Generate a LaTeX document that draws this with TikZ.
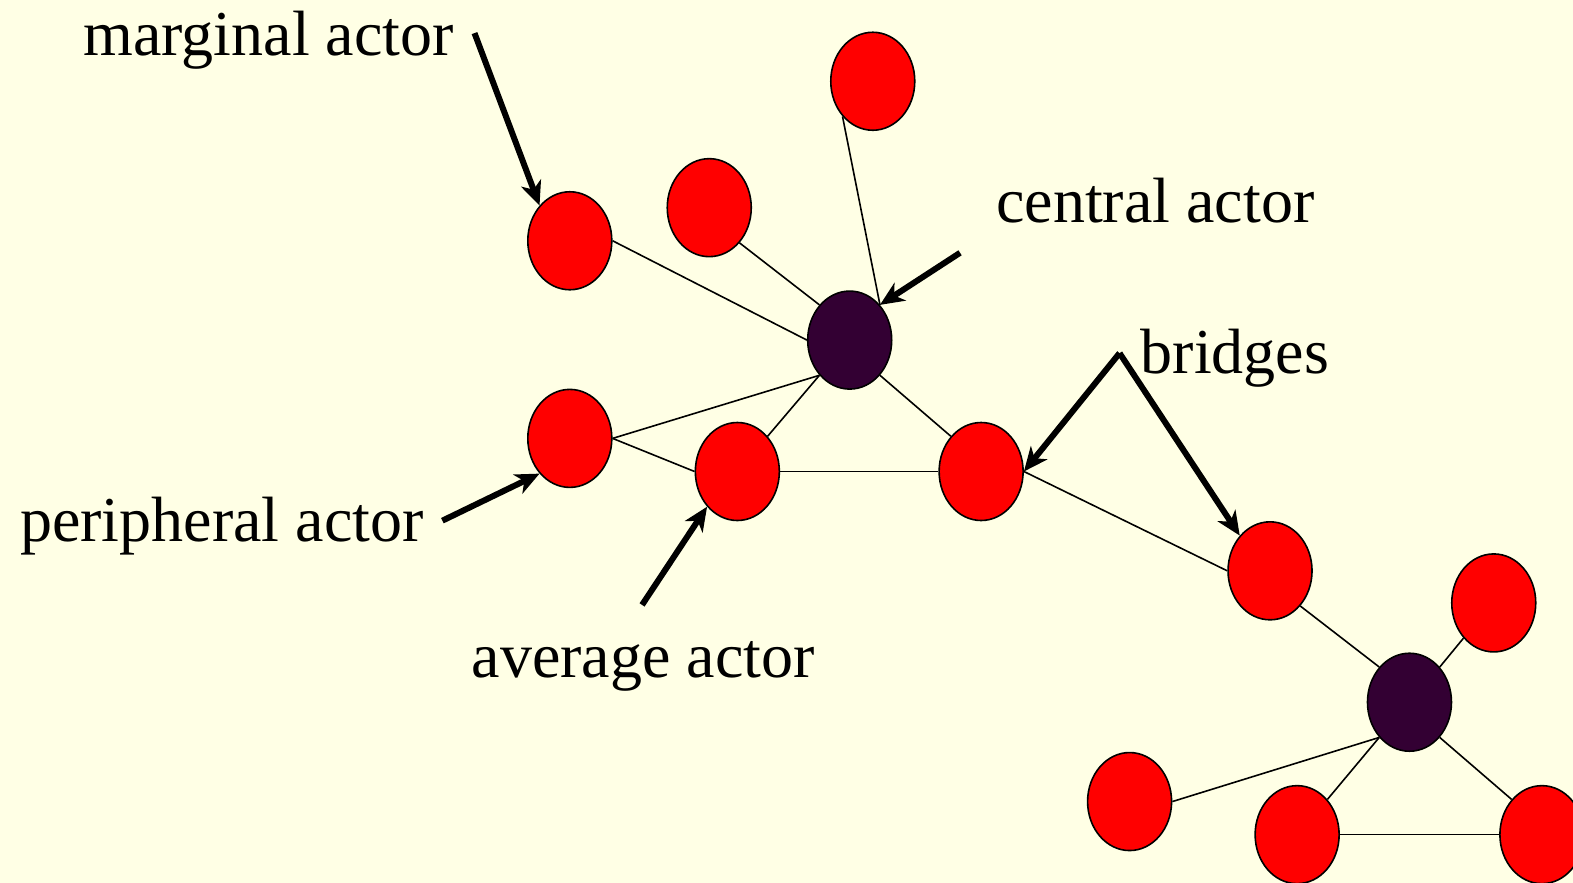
\documentclass[tikz,border=0pt]{standalone}
\usepackage{fontspec}
\setmainfont{Liberation Serif}
\usetikzlibrary{shapes.geometric,arrows.meta}
\definecolor{bgyellow}{RGB}{255,255,229}
\definecolor{darkactor}{RGB}{51,0,51}
\tikzset{
  actor/.style={ellipse, draw, line width=1.6pt, fill=red, minimum width=84pt, minimum height=98pt, inner sep=0pt},
  hub/.style={actor, fill=darkactor},
  tie/.style={line width=1.6pt},
  pointer/.style={line width=6pt, -{Stealth[length=24pt,width=21pt,inset=7pt]}},
  lbl/.style={anchor=base west, inner sep=0pt, font=\fontsize{64}{70}\selectfont}
}
\begin{document}
\begin{tikzpicture}[x=1.0032pt, y=-1.0032pt]
\fill[bgyellow] (0,0) rectangle (1568,880);
\useasboundingbox (0,0) rectangle (1568,880);
\node[actor] (aid0) at (870,81){};
\node[actor] (aid1) at (707,207){};
\node[actor] (aid2) at (568,240){};
\node[hub] (aid3) at (847,339){};
\node[actor] (aid4) at (568,437){};
\node[actor] (aid5) at (735,470){};
\node[actor] (aid6) at (978,470){};
\draw[tie](aid0.south west) -- (aid3.north east);
\draw[tie](aid1.south east) -- (aid3.north west);
\draw[tie](aid2.east) -- (aid3.west);
\draw[tie](aid4.east) -- (aid3.south west);
\draw[tie](aid4.east) -- (aid5.west);
\draw[tie](aid5.north east) -- (aid3.south west);
\draw[tie](aid6.north west) -- (aid3.south east);
\draw[tie](aid5.east) -- (aid6.west);
\node[actor] (aid7) at (1266,569){};
\draw[tie](aid6.east) -- (aid7.west);
\node[actor] (aid8) at (1489,601){};
\node[hub] (aid9) at (1405,700){};
\node[actor] (aid10) at (1126,799){};
\node[actor] (aid11) at (1293,832){};
\node[actor] (aid12) at (1537,832){};
\draw[tie](aid7.south east) -- (aid9.north west);
\draw[tie](aid8.south west) -- (aid9.north east);
\draw[tie](aid10.east) -- (aid9.south west);
\draw[tie](aid11.north east) -- (aid9.south west);
\draw[tie](aid12.north west) -- (aid9.south east);
\draw[tie](aid11.east) -- (aid12.west);
\node[lbl] (marginal) at (83,55){marginal actor};
\node[lbl] (central) at (993,222){central actor};
\node[lbl] (bridges) at (1137,372){bridges};
\node[lbl] (peripheral) at (20,540){peripheral actor};
\node[lbl] (average) at (470,675){average actor};
\coordinate (pm) at (473,33);
\coordinate (pc) at (957,252);
\coordinate (pb) at (1116,352);
\coordinate (pp) at (441,519);
\coordinate (pa) at (640,603);
\draw[pointer](pm) -- (aid2.north west);
\draw[pointer](pc) -- (aid3.north east);
\draw[pointer](pb) -- (aid6.east);
\draw[pointer](pb) -- (aid7.north west);
\draw[pointer](pp) -- (aid4.south west);
\draw[pointer](pa) -- (aid5.south west);
\end{tikzpicture}
\end{document}
